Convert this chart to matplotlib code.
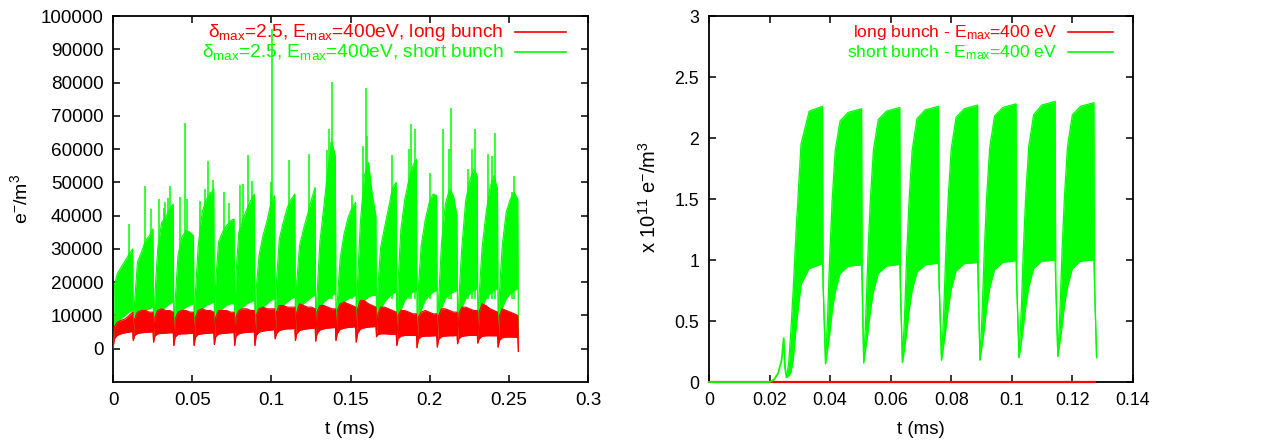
import numpy as np
import matplotlib
matplotlib.use("Agg")
import matplotlib.pyplot as plt

plt.rcParams['font.family'] = ['Liberation Sans', 'DejaVu Sans']
plt.rcParams['mathtext.fontset'] = 'custom'
plt.rcParams['mathtext.rm'] = 'Liberation Sans'
plt.rcParams['mathtext.it'] = 'Liberation Sans:italic'
plt.rcParams['mathtext.default'] = 'regular'

RED = '#ff0000'
GREEN = '#00ff00'

# ---------------- left panel: e-cloud density per bunch train ----------------
# train start times (ms) and sample offsets inside a train (ms)
train_start = [0.0, 0.0128, 0.0256, 0.0384, 0.0512, 0.0640, 0.0768, 0.0896,
               0.1024, 0.1152, 0.1280, 0.1408, 0.1536, 0.1664, 0.1792,
               0.1920, 0.2048, 0.2176, 0.2304, 0.2432]
train_offs = [0.0, 0.0008, 0.0026, 0.0051, 0.0077, 0.0102, 0.0124]
t_end = 0.256

# short bunch: upper / lower envelope of the oscillating density
short_hi = [
    [500, 19000, 22500, 24500, 26500, 28500, 30000],
    [3000, 14000, 26000, 29000, 32500, 34000, 36000],
    [3000, 16000, 30000, 38000, 39500, 42000, 43500],
    [2500, 14000, 28000, 33500, 35500, 35000, 34000],
    [3000, 16500, 31000, 41000, 45000, 46500, 48000],
    [3500, 20000, 32000, 35000, 37000, 38500, 39000],
    [3500, 22000, 35000, 38500, 42000, 44500, 46500],
    [3000, 18000, 28000, 34000, 38500, 44000, 46000],
    [4000, 20000, 33000, 38000, 42500, 45000, 46500],
    [3500, 20000, 31000, 36000, 40500, 45000, 48500],
    [3000, 16000, 32000, 42500, 54000, 62000, 58000],
    [3500, 14000, 27000, 34500, 39500, 42500, 44000],
    [4000, 20000, 38000, 52000, 56000, 46000, 40000],
    [3500, 18000, 30500, 36500, 42500, 48500, 50000],
    [2500, 20000, 36000, 45000, 51000, 55000, 57000],
    [3000, 18000, 31000, 38500, 44000, 46500, 46000],
    [3500, 14500, 31500, 43500, 48000, 46000, 40000],
    [3000, 15000, 30000, 44500, 50500, 54000, 52000],
    [3000, 16000, 30000, 40500, 48500, 52000, 48000],
    [3000, 16500, 31000, 41000, 45000, 47000, 45000],
]
short_lo = [
    [500, 4000, 7000, 9000, 10000, 11000, 11500],
    [3000, 6000, 9000, 10500, 11500, 12000, 12500],
    [3000, 6500, 10000, 11500, 12500, 13500, 14000],
    [2500, 6000, 9500, 11500, 12500, 13000, 13500],
    [3000, 6500, 10000, 12000, 13000, 13500, 14000],
    [3500, 6500, 10000, 12000, 13000, 13500, 13500],
    [3500, 7000, 10500, 12500, 13500, 14000, 14500],
    [3000, 7000, 10500, 12500, 13500, 14500, 15000],
    [4000, 7500, 11000, 13000, 14000, 15000, 15500],
    [3500, 7500, 11000, 13500, 14500, 15500, 16000],
    [3000, 7500, 11500, 14000, 15000, 16000, 16500],
    [3500, 7500, 11500, 14000, 15000, 15500, 16000],
    [4000, 8000, 12000, 14500, 15500, 16000, 16000],
    [3500, 7500, 11500, 14000, 15500, 16500, 17000],
    [2500, 7500, 11500, 14500, 16000, 17000, 17500],
    [3000, 7500, 11500, 14500, 16000, 17000, 17500],
    [3500, 7500, 12000, 15000, 16500, 17000, 17500],
    [3000, 8000, 12000, 15000, 16500, 17500, 18000],
    [3000, 8000, 12000, 15000, 16500, 17500, 18000],
    [3000, 8000, 12000, 15000, 16500, 17500, 18000],
]
short_end = 4000

# isolated single-bunch peaks of the short bunch run
spike_t = [0.0103, 0.0200, 0.0240, 0.0292, 0.0320, 0.0330, 0.0350, 0.0360,
           0.0425, 0.0456, 0.0470, 0.0550, 0.0580, 0.0597, 0.0614, 0.0630,
           0.0702, 0.0730, 0.0800, 0.0820, 0.0851, 0.0875, 0.0995, 0.1000,
           0.1005, 0.1110, 0.1240, 0.1350, 0.1365, 0.1375, 0.1385, 0.1510,
           0.1580, 0.1596, 0.1605, 0.1764, 0.1870, 0.1880, 0.1907, 0.2000,
           0.2085, 0.2120, 0.2134, 0.2240, 0.2265, 0.2285, 0.2370, 0.2395,
           0.2410, 0.2520, 0.2533]
spike_v = [37500, 48800, 42000, 45100, 42300, 44000, 45300, 48800,
           45500, 67800, 45000, 44500, 48000, 56300, 47000, 50800,
           47000, 43800, 49300, 49500, 58300, 50500, 46500, 50000,
           96000, 56800, 58500, 59800, 66000, 62000, 80300, 46300,
           60800, 78300, 64000, 58300, 60000, 67500, 66000, 52800,
           66000, 60000, 72300, 54000, 60000, 66000, 58500, 58000,
           64800, 47000, 52000]

# long bunch: upper / lower envelope
long_hi = [
    [0, 6500, 8000, 8500, 9000, 10000, 11000],
    [2500, 9000, 11000, 11500, 11500, 11000, 11000],
    [2000, 9500, 11500, 12000, 11500, 11500, 11000],
    [1000, 9000, 11000, 11500, 11500, 11000, 11000],
    [1000, 9500, 11500, 12000, 11500, 11500, 11000],
    [1300, 9500, 11500, 11500, 11500, 11000, 11000],
    [1000, 9500, 11500, 12000, 12000, 11500, 11500],
    [1000, 10000, 12000, 12500, 12000, 12000, 12000],
    [3000, 11000, 13000, 13000, 12500, 12500, 12500],
    [2500, 11000, 13500, 13000, 12500, 12500, 12000],
    [2300, 11000, 13000, 13000, 12500, 12000, 12000],
    [2500, 11500, 13500, 14000, 13500, 13000, 12500],
    [2000, 12000, 14500, 14500, 13500, 13000, 12500],
    [3700, 10500, 12500, 12500, 12000, 11500, 11000],
    [1000, 10000, 11500, 11500, 11000, 10500, 10500],
    [300, 9500, 11000, 11500, 11000, 10500, 10500],
    [500, 10000, 12000, 12000, 11500, 11000, 11000],
    [1500, 10500, 12500, 12500, 12000, 11500, 11500],
    [1700, 11000, 13500, 13000, 12000, 11500, 11000],
    [500, 10000, 12000, 11500, 11000, 10500, 10000],
]
long_lo = [
    [0, 3000, 4000, 4500, 4800, 5000, 5200],
    [2500, 4000, 4600, 4800, 4900, 5000, 5100],
    [2000, 3800, 4500, 4600, 4700, 4800, 4800],
    [1000, 3500, 4300, 4500, 4500, 4600, 4700],
    [1000, 3500, 4300, 4500, 4600, 4700, 4800],
    [1300, 3600, 4400, 4600, 4700, 4800, 4900],
    [1000, 3700, 4500, 4800, 4900, 5000, 5100],
    [1000, 4000, 5000, 5300, 5500, 5600, 5800],
    [3000, 4500, 5500, 5800, 6000, 6000, 6100],
    [2500, 4500, 5500, 5800, 6000, 6100, 6200],
    [2300, 4500, 5600, 6000, 6200, 6300, 6400],
    [2500, 4600, 5800, 6200, 6400, 6500, 6600],
    [2000, 4600, 5900, 6300, 6500, 6600, 6700],
    [3700, 4200, 4500, 4500, 4400, 4300, 4300],
    [1000, 3000, 3800, 4000, 4000, 4000, 4000],
    [300, 2800, 3600, 3800, 3800, 3900, 3900],
    [500, 2800, 3600, 3800, 3900, 3900, 4000],
    [1500, 3000, 3700, 3900, 4000, 4000, 4000],
    [1700, 3000, 3700, 3900, 3900, 3900, 3900],
    [500, 2500, 3300, 3500, 3500, 3500, 3400],
]
long_end = -800

left_xticks = [0, 0.05, 0.1, 0.15, 0.2, 0.25, 0.3]
left_xlabels = ['0', '0.05', '0.1', '0.15', '0.2', '0.25', '0.3']
left_yticks = [0, 10000, 20000, 30000, 40000, 50000, 60000, 70000, 80000, 90000, 100000]
left_ylabels = ['0', '10000', '20000', '30000', '40000', '50000', '60000',
                '70000', '80000', '90000', '100000']

# ---------------- right panel: density in units of 1e11 ----------------
pre_t = [0.0, 0.0200, 0.0215, 0.0228, 0.0240, 0.0247, 0.0251, 0.0256]
pre_v = [0.0, 0.0, 0.02, 0.07, 0.18, 0.36, 0.12, 0.04]

block_start = [0.0256, 0.0385, 0.0511, 0.0639, 0.0768, 0.0895, 0.1024, 0.1152]
block_offs = [0.0, 0.0007, 0.0014, 0.0022, 0.0032, 0.0048, 0.0075, 0.0119, 0.0121]
block_hi = [
    [0.04, 0.15, 0.40, 0.75, 1.25, 1.95, 2.22, 2.26, 0.80],
    [0.15, 0.55, 1.05, 1.50, 1.90, 2.14, 2.21, 2.24, 0.80],
    [0.157, 0.55, 1.05, 1.50, 1.90, 2.15, 2.22, 2.25, 0.80],
    [0.16, 0.55, 1.05, 1.50, 1.90, 2.16, 2.23, 2.26, 0.81],
    [0.18, 0.57, 1.06, 1.51, 1.91, 2.17, 2.24, 2.27, 0.81],
    [0.18, 0.57, 1.07, 1.52, 1.92, 2.18, 2.25, 2.28, 0.82],
    [0.20, 0.58, 1.08, 1.53, 1.93, 2.19, 2.27, 2.30, 0.83],
    [0.21, 0.59, 1.08, 1.53, 1.93, 2.19, 2.26, 2.29, 0.83],
]
block_lo = [
    [0.04, 0.05, 0.07, 0.18, 0.45, 0.80, 0.93, 0.97, 0.80],
    [0.15, 0.27, 0.40, 0.58, 0.74, 0.89, 0.95, 0.96, 0.80],
    [0.157, 0.28, 0.41, 0.58, 0.74, 0.89, 0.95, 0.965, 0.80],
    [0.16, 0.28, 0.41, 0.59, 0.75, 0.90, 0.96, 0.975, 0.81],
    [0.18, 0.30, 0.43, 0.60, 0.76, 0.91, 0.97, 0.98, 0.81],
    [0.18, 0.30, 0.43, 0.61, 0.77, 0.92, 0.98, 0.995, 0.82],
    [0.20, 0.32, 0.45, 0.62, 0.78, 0.93, 0.99, 1.00, 0.83],
    [0.21, 0.33, 0.46, 0.63, 0.78, 0.93, 0.99, 1.00, 0.83],
]
block_end_t = 0.1280
block_end_v = 0.20

long_r_t = [0.0, 0.1275]
long_r_v = [0.0, 0.0]

right_xticks = [0, 0.02, 0.04, 0.06, 0.08, 0.1, 0.12, 0.14]
right_xlabels = ['0', '0.02', '0.04', '0.06', '0.08', '0.1', '0.12', '0.14']
right_yticks = [0, 0.5, 1, 1.5, 2, 2.5, 3]
right_ylabels = ['0', '0.5', '1', '1.5', '2', '2.5', '3']


def stitch(starts, offs, rows, t_last, v_last):
    t = np.concatenate([s + np.asarray(offs) for s in starts] + [[t_last]])
    v = np.concatenate([np.asarray(r, float) for r in rows] + [[v_last]])
    return t, v


def style_axes(ax, xt, xl, yt, yl, size):
    ax.set_xticks(xt)
    ax.set_xticklabels(xl)
    ax.set_yticks(yt)
    ax.set_yticklabels(yl)
    ax.tick_params(direction='in', length=5, width=1.1, top=True, right=True,
                   labelsize=size, pad=7)
    for sp in ax.spines.values():
        sp.set_linewidth(1.3)


def legend_row(ax, y, text, color, size):
    ax.text(0.822, y, text, color=color, fontsize=size, ha='right', va='baseline',
            transform=ax.transAxes, zorder=6)
    ax.plot([0.847, 0.953], [y + 0.014, y + 0.014], color=color, lw=1.2,
            transform=ax.transAxes, zorder=6)


fig = plt.figure(figsize=(12.66, 4.42), dpi=100)

# left panel
ax1 = fig.add_axes([0.0893, 0.1357, 0.3752, 0.8281])
t_s, hi_s = stitch(train_start, train_offs, short_hi, t_end, short_end)
_, lo_s = stitch(train_start, train_offs, short_lo, t_end, short_end)
t_l, hi_l = stitch(train_start, train_offs, long_hi, t_end, long_end)
_, lo_l = stitch(train_start, train_offs, long_lo, t_end, long_end)

ax1.fill_between(t_s, lo_s, hi_s, color=GREEN, lw=0, zorder=2)
ax1.plot(t_s, hi_s, color=GREEN, lw=0.8, zorder=2)
ax1.vlines(spike_t, 15000, spike_v, color=GREEN, lw=1.1, zorder=2)
ax1.fill_between(t_l, lo_l, hi_l, color=RED, lw=0, zorder=3)
ax1.plot(t_l, hi_l, color=RED, lw=0.8, zorder=3)
ax1.plot(t_l, lo_l, color=RED, lw=0.8, zorder=3)

ax1.set_xlim(0, 0.3)
ax1.set_ylim(-10000, 100000)
style_axes(ax1, left_xticks, left_xlabels, left_yticks, left_ylabels, 13.6)
legend_row(ax1, 0.942, r'δ$_{max}$=2.5, E$_{max}$=400eV, long bunch', RED, 13.8)
legend_row(ax1, 0.887, r'δ$_{max}$=2.5, E$_{max}$=400eV, short bunch', GREEN, 13.8)

# right panel
ax2 = fig.add_axes([0.5600, 0.1357, 0.3349, 0.8281])
t_b, hi_b = stitch(block_start, block_offs, block_hi, block_end_t, block_end_v)
_, lo_b = stitch(block_start, block_offs, block_lo, block_end_t, block_end_v)

ax2.plot(long_r_t, long_r_v, color=RED, lw=1.6, zorder=4, clip_on=False)
ax2.plot(pre_t, pre_v, color=GREEN, lw=1.3, zorder=5, clip_on=False)
ax2.fill_between(t_b, lo_b, hi_b, color=GREEN, lw=0, zorder=5)
ax2.plot(t_b, lo_b, color=GREEN, lw=0.9, zorder=5)
ax2.plot(t_b, hi_b, color=GREEN, lw=0.9, zorder=5)

ax2.set_xlim(0, 0.14)
ax2.set_ylim(0, 3)
style_axes(ax2, right_xticks, right_xlabels, right_yticks, right_ylabels, 12.8)
legend_row(ax2, 0.942, r'long bunch - E$_{max}$=400 eV', RED, 12.6)
legend_row(ax2, 0.887, r'short bunch - E$_{max}$=400 eV', GREEN, 12.6)

# axis titles
fig.text(350 / 1266, 1 - 429 / 442, 't (ms)', fontsize=14, ha='center', va='center')
fig.text(921 / 1266, 1 - 429 / 442, 't (ms)', fontsize=13.5, ha='center', va='center')
fig.text(20 / 1266, 1 - 199 / 442, r'e$^{-}$/m$^{3}$', fontsize=14, rotation=90,
         ha='center', va='center')
fig.text(649 / 1266, 1 - 197 / 442, r'x 10$^{11}$ e$^{-}$/m$^{3}$', fontsize=14.5,
         rotation=90, ha='center', va='center')

fig.savefig('out.png', dpi=100)
